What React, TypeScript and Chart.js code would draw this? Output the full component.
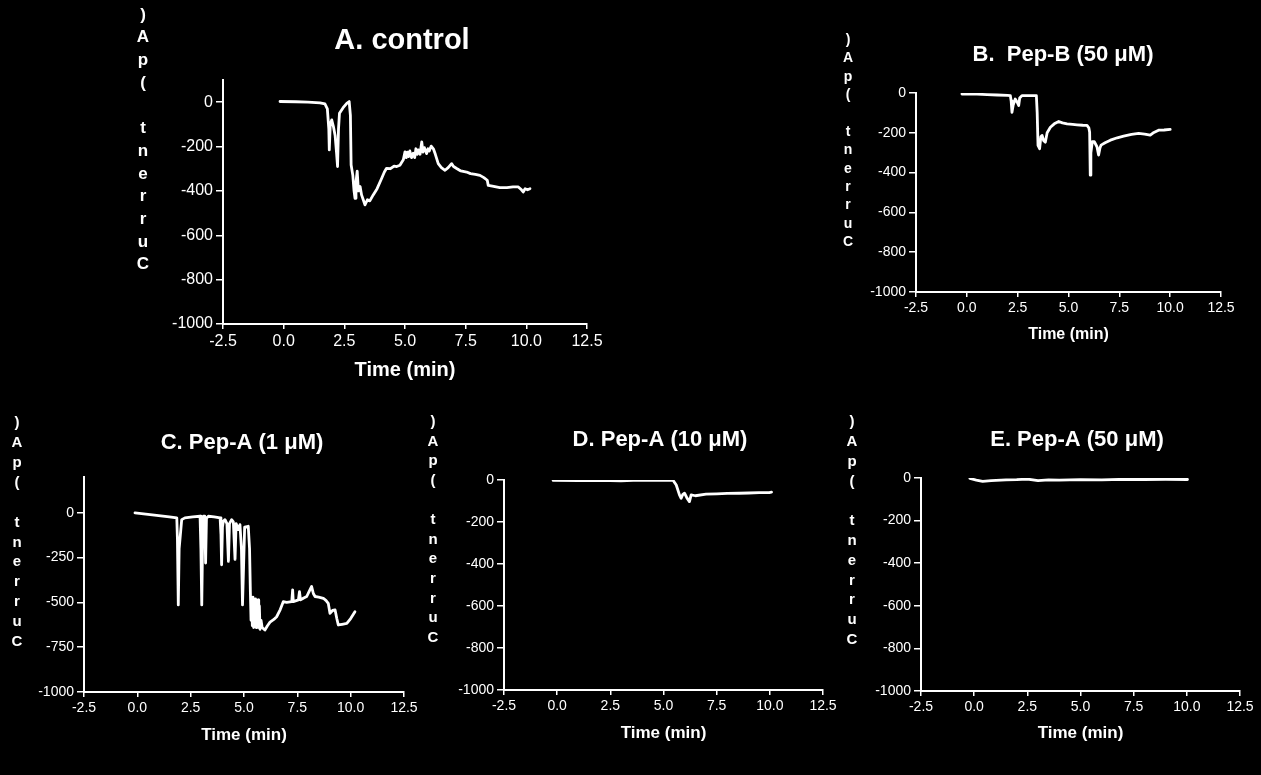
import React, { useEffect, useRef } from "react";
import { Chart, registerables } from "chart.js";

Chart.register(...registerables);

const PAGE_W = 1261;
const PAGE_H = 775;

// ---------- data (time in min, current in pA) ----------
const timeA = [-0.15, 0.5, 1.0, 1.5, 1.7, 1.8, 1.86, 1.88, 1.92, 1.98, 2.05, 2.12, 2.18, 2.22, 2.26, 2.3, 2.45, 2.6, 2.7, 2.75, 2.78, 2.85, 2.9, 2.94, 2.98, 3.03, 3.08, 3.15, 3.21, 3.28, 3.35, 3.45, 3.55, 3.69, 3.85, 4.04, 4.15, 4.24, 4.4, 4.55, 4.66, 4.79, 4.93, 5.0, 5.05, 5.1, 5.15, 5.2, 5.27, 5.34, 5.4, 5.45, 5.5, 5.55, 5.62, 5.69, 5.74, 5.8, 5.89, 5.95, 6.0, 6.08, 6.17, 6.25, 6.37, 6.5, 6.65, 6.78, 6.92, 7.0, 7.13, 7.3, 7.54, 7.7, 7.9, 8.09, 8.25, 8.39, 8.43, 8.6, 8.91, 9.2, 9.45, 9.67, 9.8, 9.87, 9.95, 10.05, 10.15];
const currentA = [3, 2, 0, -3, -8, -30, -120, -215, -100, -80, -110, -150, -230, -290, -120, -50, -25, -5, 3, -60, -283, -330, -400, -433, -360, -311, -400, -380, -418, -440, -463, -440, -445, -418, -390, -343, -315, -298, -300, -288, -290, -284, -260, -224, -250, -225, -245, -220, -250, -230, -250, -210, -235, -215, -235, -179, -225, -205, -232, -210, -220, -198, -210, -235, -277, -295, -307, -295, -277, -290, -299, -310, -315, -322, -325, -330, -340, -352, -375, -378, -385, -385, -382, -382, -395, -405, -390, -395, -390];

const timeB = [-0.24, 0.5, 1.0, 1.5, 2.0, 2.14, 2.18, 2.22, 2.28, 2.38, 2.47, 2.55, 2.6, 2.71, 3.0, 3.42, 3.46, 3.5, 3.58, 3.64, 3.7, 3.78, 3.86, 3.95, 4.11, 4.3, 4.52, 4.7, 4.93, 5.2, 5.42, 5.7, 5.91, 6.0, 6.04, 6.07, 6.1, 6.17, 6.27, 6.4, 6.48, 6.55, 6.6, 6.8, 7.06, 7.4, 7.71, 8.1, 8.45, 8.75, 9.02, 9.2, 9.43, 9.7, 10.0];
const currentB = [-5, -6, -8, -10, -12, -13, -40, -97, -60, -30, -45, -63, -25, -13, -13, -13, -100, -263, -280, -220, -213, -240, -247, -200, -172, -155, -143, -150, -155, -158, -160, -162, -163, -175, -197, -413, -300, -245, -245, -270, -312, -275, -262, -250, -237, -225, -217, -208, -203, -207, -212, -198, -187, -186, -183];

const timeC = [-0.11, 0.5, 1.0, 1.5, 1.85, 1.88, 1.92, 1.96, 2.08, 2.23, 2.6, 2.94, 2.98, 3.02, 3.06, 3.1, 3.16, 3.2, 3.24, 3.33, 3.6, 3.88, 3.92, 3.95, 3.99, 4.03, 4.11, 4.2, 4.27, 4.32, 4.42, 4.5, 4.58, 4.63, 4.73, 4.81, 4.88, 4.93, 4.98, 5.03, 5.2, 5.26, 5.3, 5.33, 5.36, 5.39, 5.42, 5.45, 5.48, 5.51, 5.54, 5.57, 5.6, 5.63, 5.66, 5.69, 5.72, 5.75, 5.8, 5.85, 5.98, 6.1, 6.22, 6.4, 6.53, 6.7, 6.84, 7.0, 7.24, 7.28, 7.31, 7.45, 7.55, 7.6, 7.65, 7.8, 7.94, 8.05, 8.17, 8.25, 8.33, 8.5, 8.72, 8.85, 8.95, 9.03, 9.15, 9.27, 9.35, 9.42, 9.6, 9.82, 10.0, 10.2];
const currentC = [0, -8, -15, -22, -28, -150, -514, -200, -38, -28, -22, -19, -200, -514, -150, -19, -19, -280, -30, -19, -22, -28, -120, -290, -80, -47, -38, -60, -271, -60, -38, -50, -260, -60, -94, -66, -200, -514, -300, -80, -75, -200, -448, -600, -480, -630, -470, -640, -490, -620, -480, -640, -500, -630, -486, -640, -520, -650, -600, -640, -654, -630, -610, -595, -580, -540, -496, -500, -496, -430, -496, -490, -486, -440, -486, -475, -467, -440, -411, -450, -467, -470, -477, -490, -505, -561, -545, -542, -590, -626, -622, -617, -590, -552];

const timeD = [-0.19, 1.0, 2.0, 3.0, 3.86, 4.5, 5.44, 5.6, 5.75, 5.83, 5.9, 5.99, 6.1, 6.22, 6.3, 6.5, 7.0, 7.5, 8.0, 8.56, 9.0, 9.5, 9.97, 10.08];
const currentD = [-2, -3, -2, -4, 0, -2, 0, -24, -71, -87, -70, -63, -85, -103, -71, -75, -67, -66, -64, -63, -62, -60, -60, -58];

const timeE = [-0.2, 0.1, 0.4, 0.8, 1.5, 2.0, 2.5, 3.0, 3.5, 4.0, 5.0, 6.0, 7.0, 8.0, 9.0, 10.03];
const currentE = [-2, -10, -16, -12, -9, -8, -5, -12, -9, -10, -8, -9, -6, -7, -6, -7];

// ---------- tick values & texts ----------
const xTicks = [-2.5, 0, 2.5, 5, 7.5, 10, 12.5];
const yTicks200 = [-1000, -800, -600, -400, -200, 0];
const yTicks250 = [-1000, -750, -500, -250, 0];
const titleA = "A. control";
const titleB = "B.  Pep-B (50 μM)";
const titleC = "C. Pep-A (1 μM)";
const titleD = "D. Pep-A (10 μM)";
const titleE = "E. Pep-A (50 μM)";
const yAxisLabel = "Current (pA)";
const xAxisLabel = "Time (min)";

const FONT = "'Liberation Sans', Arial, Helvetica, sans-serif";

type Layout = {
  left: number; right: number; top: number; bottom: number;
  yMin: number; yMax: number;
  tickSize: number; xTitleSize: number; xTitleY: number;
  titleSize: number; titleX: number; titleY: number;
  labelSize: number; labelX: number; labelTop: number; labelStep: number;
};

type Panel = { time: number[]; current: number[]; yTicks: number[]; title: string; layout: Layout };

const panels: Panel[] = [
  {
    time: timeA, current: currentA, yTicks: yTicks200, title: titleA,
    layout: { left: 223, right: 587, top: 80, bottom: 324, yMin: -1000, yMax: 100, tickSize: 16, xTitleSize: 20, xTitleY: 370, titleSize: 29, titleX: 402, titleY: 41, labelSize: 17, labelX: 143, labelTop: 15, labelStep: 22.7 },
  },
  {
    time: timeB, current: currentB, yTicks: yTicks200, title: titleB,
    layout: { left: 916, right: 1221, top: 93, bottom: 292, yMin: -1000, yMax: 0, tickSize: 14, xTitleSize: 16, xTitleY: 335, titleSize: 22, titleX: 1063, titleY: 55, labelSize: 14, labelX: 848, labelTop: 40, labelStep: 18.4 },
  },
  {
    time: timeC, current: currentC, yTicks: yTicks250, title: titleC,
    layout: { left: 84, right: 404, top: 477, bottom: 692, yMin: -1000, yMax: 200, tickSize: 14, xTitleSize: 17, xTitleY: 735, titleSize: 22, titleX: 242, titleY: 443, labelSize: 15, labelX: 17, labelTop: 423, labelStep: 19.9 },
  },
  {
    time: timeD, current: currentD, yTicks: yTicks200, title: titleD,
    layout: { left: 504, right: 823, top: 480, bottom: 690, yMin: -1000, yMax: 0, tickSize: 14, xTitleSize: 17, xTitleY: 733, titleSize: 22, titleX: 660, titleY: 440, labelSize: 15, labelX: 433, labelTop: 422, labelStep: 19.6 },
  },
  {
    time: timeE, current: currentE, yTicks: yTicks200, title: titleE,
    layout: { left: 921, right: 1240, top: 478, bottom: 691, yMin: -1000, yMax: 0, tickSize: 14, xTitleSize: 17, xTitleY: 733, titleSize: 22, titleX: 1077, titleY: 440, labelSize: 15, labelX: 852, labelTop: 422, labelStep: 19.8 },
  },
];

const panelTextPlugin = {
  id: "panelText",
  afterDraw(chart: any, _args: any, opts: any) {
    const ctx = chart.ctx as CanvasRenderingContext2D;
    ctx.save();
    ctx.fillStyle = "#ffffff";
    ctx.textAlign = "center";
    ctx.textBaseline = "middle";
    ctx.font = `bold ${opts.titleSize}px ${FONT}`;
    ctx.fillText(opts.title, opts.titleX, opts.titleY);
    ctx.font = `bold ${opts.labelSize}px ${FONT}`;
    const chars = Array.from(opts.label as string).reverse();
    chars.forEach((c, i) => {
      if (c !== " ") ctx.fillText(c, opts.labelX, opts.labelTop + i * opts.labelStep);
    });
    ctx.restore();
  },
};

const Y_AXIS_W = 80;

function PanelChart({ panel }: { panel: Panel }) {
  const ref = useRef<HTMLCanvasElement>(null);
  useEffect(() => {
    const L = panel.layout;
    const xTitleLH = L.xTitleSize * 1.2;
    const xAxisH = L.xTitleY - L.bottom + xTitleLH / 2;
    const chart = new Chart(ref.current as HTMLCanvasElement, {
      type: "line",
      data: {
        datasets: [
          {
            data: panel.time.map((t, i) => ({ x: t, y: panel.current[i] })),
            borderColor: "#ffffff",
            borderWidth: 2.8,
            borderJoinStyle: "round",
            borderCapStyle: "round",
            pointRadius: 0,
            tension: 0,
            fill: false,
          },
        ],
      },
      options: {
        responsive: false,
        animation: false,
        events: [],
        layout: {
          padding: {
            left: L.left - Y_AXIS_W,
            top: L.top,
            right: PAGE_W - L.right,
            bottom: PAGE_H - L.bottom - xAxisH,
          },
        },
        plugins: {
          legend: { display: false },
          tooltip: { enabled: false },
          title: { display: false },
          panelText: {
            title: panel.title,
            titleSize: L.titleSize,
            titleX: L.titleX,
            titleY: L.titleY,
            label: yAxisLabel,
            labelSize: L.labelSize,
            labelX: L.labelX,
            labelTop: L.labelTop,
            labelStep: L.labelStep,
          },
        } as any,
        scales: {
          x: {
            type: "linear",
            min: -2.5,
            max: 12.5,
            afterBuildTicks: (s: any) => {
              s.ticks = xTicks.map((v) => ({ value: v }));
            },
            afterFit: (s: any) => {
              s.height = xAxisH;
            },
            grid: { display: true, drawOnChartArea: false, drawTicks: true, tickLength: 5, color: "#ffffff", lineWidth: 1.5 },
            border: { display: true, color: "#ffffff", width: 2 },
            ticks: {
              color: "#ffffff",
              font: { family: FONT, size: L.tickSize },
              padding: 3,
              maxRotation: 0,
              autoSkip: false,
              callback: (v: any) => Number(v).toFixed(1),
            },
            title: {
              display: true,
              text: xAxisLabel,
              color: "#ffffff",
              font: { family: FONT, size: L.xTitleSize, weight: "bold" },
              padding: { top: 0, bottom: 0 },
            },
          },
          y: {
            type: "linear",
            min: L.yMin,
            max: L.yMax,
            afterBuildTicks: (s: any) => {
              s.ticks = panel.yTicks.map((v) => ({ value: v }));
            },
            afterFit: (s: any) => {
              s.width = Y_AXIS_W;
            },
            grid: { display: true, drawOnChartArea: false, drawTicks: true, tickLength: 7, color: "#ffffff", lineWidth: 1.5 },
            border: { display: true, color: "#ffffff", width: 2 },
            ticks: {
              color: "#ffffff",
              font: { family: FONT, size: L.tickSize },
              padding: 3,
              autoSkip: false,
              callback: (v: any) => String(v),
            },
          },
        },
      },
      plugins: [panelTextPlugin],
    } as any);
    return () => chart.destroy();
  }, [panel]);
  return (
    <canvas
      ref={ref}
      width={PAGE_W}
      height={PAGE_H}
      style={{ position: "absolute", left: 0, top: 0, width: PAGE_W, height: PAGE_H }}
    />
  );
}

export default function App() {
  return (
    <div
      style={{
        position: "fixed",
        left: 0,
        top: 0,
        width: PAGE_W,
        height: PAGE_H,
        background: "#000000",
        overflow: "hidden",
      }}
    >
      {panels.map((p, i) => (
        <PanelChart key={i} panel={p} />
      ))}
    </div>
  );
}
